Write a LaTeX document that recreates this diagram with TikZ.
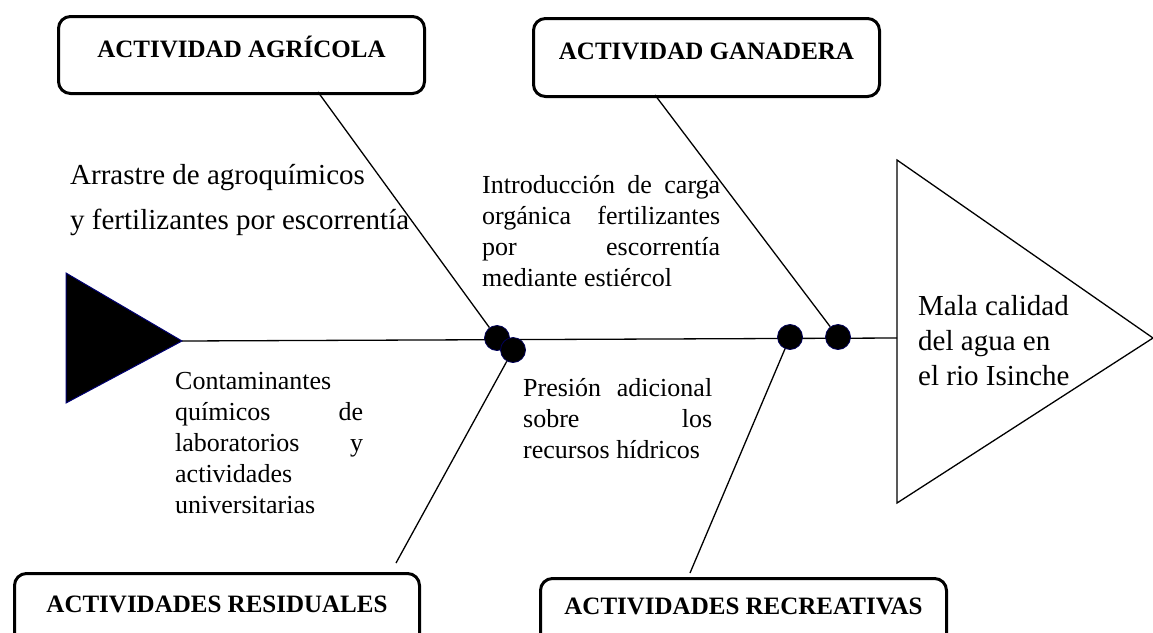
\documentclass[tikz,border=0pt]{standalone}
\usepackage{fontspec}
\setmainfont{Liberation Serif}
\tolerance=10000
\hbadness=10000
\begin{document}
\begin{tikzpicture}[x=1pt,y=-1pt,
 catbox/.style={draw, line width=3pt, rounded corners=12pt, inner sep=0pt, font=\fontsize{25}{30}\selectfont\bfseries},
 bone/.style={line width=1.3pt},
 dot/.style={circle, fill=black, draw=blue!35!black, line width=0.8pt, minimum size=25pt, inner sep=0pt},
 causetxt/.style={inner sep=0pt, align=justify, anchor=base west, font=\fontsize{26}{31}\selectfont},
]
\useasboundingbox (0,0) rectangle (1153,632);
\clip (0,0) rectangle (1153,632);

% category boxes
\node[catbox, minimum width=366pt, text height=41pt, text depth=36pt, anchor=north west] (agri) at (57,15) {ACTIVIDAD AGRÍCOLA};
\node[catbox, minimum width=346pt, text height=41pt, text depth=37pt, anchor=north west] (gana) at (532,17) {ACTIVIDAD GANADERA};
\node[catbox, minimum width=405pt, text height=39pt, text depth=45pt, anchor=north west] (resid) at (13,572) {ACTIVIDADES RESIDUALES};
\node[catbox, minimum width=406pt, text height=36pt, text depth=45pt, anchor=north west] (recr) at (539,577) {ACTIVIDADES RECREATIVAS};

% tail and head
\coordinate (t1) at (66,273);
\coordinate (t2) at (66,403);
\coordinate (tailtip) at (182,341);
\filldraw[fill=black, draw=blue!45!black, line width=1pt, line join=miter] (t1) -- (tailtip) -- (t2) -- cycle;
\coordinate (h1) at (897,160);
\coordinate (h2) at (897,503);
\coordinate (headtip) at (1153,338);
\coordinate (headL) at (897,338);
\draw[line width=1.3pt] (h1) -- (headtip) -- (h2) -- cycle;

% spine
\draw[bone] (tailtip) -- (headL);

% dots
\node[dot] (d1) at (497,338) {};
\node[dot] (d2) at (513,350) {};
\node[dot] (d3) at (790,337) {};
\node[dot] (d4) at (838,337) {};

% branches
\coordinate (agriA) at (318,92);
\coordinate (ganaA) at (655,95);
\coordinate (residA) at (396,563);
\coordinate (recrA) at (690,573);
\draw[bone] (agriA) -- (d1);
\draw[bone] (ganaA) -- (d4);
\draw[bone] (d2) -- (residA);
\draw[bone] (d3) -- (recrA);

% texts
\node[anchor=base west, inner sep=0pt, align=left, font=\fontsize{29}{45}\selectfont] (arr) at (70,229) {Arrastre de agroquímicos\\y fertilizantes por escorrentía};
\node[causetxt, text width=238pt] (intro) at (482,193) {Introducción de carga\linebreak orgánica fertilizantes\linebreak por escorrentía\linebreak mediante estiércol};
\node[causetxt, text width=188pt] (cont) at (175,389) {Contaminantes\linebreak químicos de\linebreak laboratorios y\linebreak actividades\linebreak universitarias};
\node[causetxt, text width=189pt] (pres) at (523,396) {Presión adicional\linebreak sobre los\linebreak recursos hídricos};
\node[anchor=base west, inner sep=0pt, align=left, font=\fontsize{29}{35}\selectfont] (mala) at (918,385) {Mala calidad\\del agua en\\el rio Isinche};
\end{tikzpicture}
\end{document}
